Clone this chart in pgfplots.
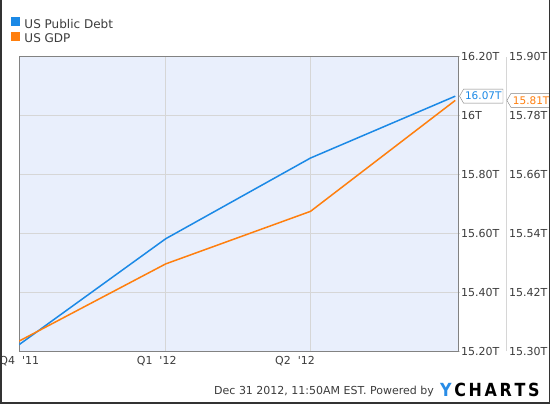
\documentclass[border=0pt]{standalone}
\usepackage{pgfplots}
\pgfplotsset{compat=1.18}
\usepackage{fontspec}
\setmainfont{DejaVu Sans}
\usetikzlibrary{shapes.symbols}
\definecolor{debt}{RGB}{27,137,230}
\definecolor{gdp}{RGB}{255,127,14}
\definecolor{plotbg}{RGB}{233,239,252}
\definecolor{gridc}{RGB}{214,214,214}
\definecolor{labc}{RGB}{60,60,60}
\definecolor{bordc}{RGB}{130,130,130}
\definecolor{ycblue}{RGB}{40,140,230}
\begin{document}
\begin{tikzpicture}[x=1pt,y=1pt]
\fill[white] (0,0) rectangle (550,404);
\begin{axis}[
  at={(19.3pt,52.7pt)}, anchor=south west, scale only axis,
  width=439pt, height=294.6pt,
  xmin=0, xmax=275.9, ymin=15.2, ymax=16.2,
  clip=false,
  axis background/.style={fill=plotbg},
  axis line style={draw=bordc, line width=0.8pt},
  xtick={0,92,183},
  xticklabels={Q4\hspace{7pt}\textquotesingle11,\hspace*{-18pt}Q1\hspace{7pt}\textquotesingle12,\hspace*{-31pt}Q2\hspace{7pt}\textquotesingle12},
  xtick style={draw=none},
  ytick={15.2,15.4,15.6,15.8,16,16.2},
  yticklabels={15.20T,15.40T,15.60T,15.80T,16T,16.20T},
  ytick pos=right, yticklabel pos=right,
  ytick style={draw=gridc, line width=0.8pt},
  major tick length=2pt, tick align=outside,
  yticklabel style={xshift=-2.7pt},
  xmajorgrids, ymajorgrids,
  grid style={draw=gridc, line width=0.8pt},
  ticklabel style={font=\fontsize{11}{13}\selectfont, text=labc},
]
\addplot[debt, line width=1.5pt] coordinates {(0,15.223) (92,15.582) (183,15.856) (274,16.066)};
\node[signal, signal to=west, signal pointer angle=120, draw=bordc, fill=white, text=debt,
  font=\fontsize{10.5}{12}\selectfont, inner xsep=1.5pt, inner ysep=3pt, anchor=west]
  at ([xshift=1pt]axis cs:275.9,16.066) {16.07T};
\end{axis}
\begin{axis}[
  at={(19.3pt,52.7pt)}, anchor=south west, scale only axis,
  width=439pt, height=294.6pt,
  xmin=0, xmax=275.9, ymin=15.3, ymax=15.9,
  clip=false,
  axis x line=none, axis y line*=right,
  y axis line style={draw=none},
  ytick={15.30,15.42,15.54,15.66,15.78,15.90},
  yticklabels={15.30T,15.42T,15.54T,15.66T,15.78T,15.90T},
  ytick style={draw=none},
  yticklabel style={xshift=47.3pt},
  ticklabel style={font=\fontsize{11}{13}\selectfont, text=labc},
  legend style={draw=none, fill=none, inner sep=0pt, outer sep=0pt,
    at={(axis description cs:-0.0196,1.1348)}, anchor=north west,
    nodes={inner sep=0pt, text height=9pt, text depth=3pt, text=labc, font=\fontsize{12}{14}\selectfont},
    row sep=0.5pt, column sep=5.4pt},
  legend cell align=left,
]
\addlegendimage{legend image code/.code={\fill[debt] (0pt,0pt) rectangle (8pt,8pt);}}
\addlegendentry{US Public Debt}
\addlegendimage{legend image code/.code={\fill[gdp] (0pt,0pt) rectangle (8pt,8pt);}}
\addlegendentry{US GDP}
\addplot[gdp, line width=1.5pt, forget plot] coordinates {(0,15.321) (92,15.478) (183,15.585) (274,15.811)};
\draw[gridc, line width=0.8pt] ([xshift=48.4pt]rel axis cs:1,0) -- ([xshift=48.4pt]rel axis cs:1,1);
\node[signal, signal to=west, signal pointer angle=120, draw=bordc, fill=white, text=gdp,
  font=\fontsize{10.5}{12}\selectfont, inner xsep=1.5pt, inner ysep=3pt, anchor=west,
  minimum width=50pt, text width=42pt]
  at ([xshift=48.4pt]axis cs:275.9,15.811) {15.81T};
\end{axis}
\node[anchor=base east, inner sep=0pt, font=\fontsize{11}{13}\selectfont, text=labc]
  at (434,9.3) {Dec 31 2012, 11:50AM EST. Powered by};
\node[anchor=base west, inner sep=0pt] at (440,7.3)
  {\resizebox{99.3pt}{13.4pt}{\bfseries\textcolor{ycblue}{Y}\,C\,H\,A\,R\,T\,S}};
\draw[line width=3pt, black!80] (0,404) -- (0,0) -- (550,0) -- (550,404);
\pgfresetboundingbox
\path[use as bounding box] (0,0) rectangle (550,404);
\end{tikzpicture}
\end{document}
